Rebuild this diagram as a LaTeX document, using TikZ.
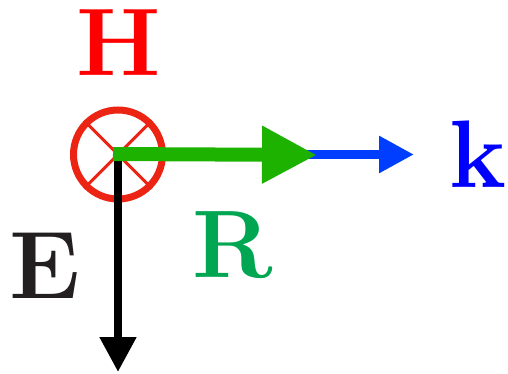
\documentclass[tikz,border=0pt]{standalone}
\usepackage{tikz}
\usetikzlibrary{arrows.meta}

\definecolor{ringred}{RGB}{236,36,20}
\definecolor{vecgreen}{RGB}{30,178,0}
\definecolor{vecblue}{RGB}{0,62,255}
\definecolor{lblgreen}{RGB}{0,166,81}
\definecolor{lblblack}{RGB}{35,31,32}

\begin{document}
\begin{tikzpicture}[
    x=1pt, y=-1pt,
    lbl/.style={
        inner sep=0pt, anchor=base,
        font=\fontsize{96}{96}\selectfont\bfseries
    },
    ring/.style={
        circle, draw=ringred, line width=7pt,
        minimum size=89pt, inner sep=0pt
    },
    cross/.style={ringred, line width=3pt},
    vec/.style={line cap=butt},
]
\useasboundingbox (0,0) rectangle (508,374);
% field into the page
\node[ring] (hring) at (118,154.5) {};
\draw[cross] (hring.45)  -- (hring.225);
\draw[cross] (hring.135) -- (hring.315);
% arrow ends
\coordinate (ktip) at (414,154.5);
\coordinate (rtip) at (317,155);
\coordinate (etip) at (118,372);
\draw[vec, vecblue, line width=9pt, -{Triangle[length=35pt, width=35pt]}]
    (hring.center) -- (ktip);
\draw[vec, black, line width=8pt, -{Triangle[length=35pt, width=35pt]}]
    ([yshift=0.5pt]hring.center) -- (etip);
\draw[vec, vecgreen, line width=14pt, -{Triangle[length=55pt, width=54pt]}]
    ([xshift=-5pt, yshift=0.5pt]hring.center) -- (rtip);
% labels
\node[lbl, text=red]       (hlbl) at (118.5,76) {H};
\node[lbl, text=blue]      (klbl) at (478,187)  {k};
\node[lbl, text=lblgreen]  (rlbl) at (233,277)  {R};
\node[lbl, text=lblblack]  (elbl) at (44.5,298) {E};
\end{tikzpicture}
\end{document}
